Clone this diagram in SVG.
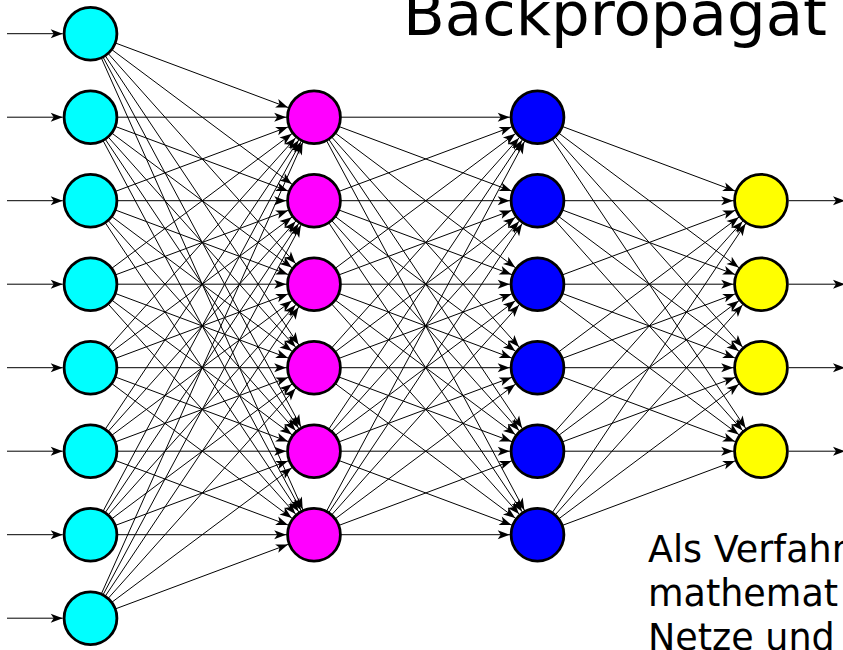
<svg xmlns="http://www.w3.org/2000/svg" width="843" height="650" viewBox="0 0 843 650">
  <style>
    .edge { stroke: #000; stroke-width: 1; fill: none; marker-end: url(#arr); }
    .io { stroke: #000; stroke-width: 1; fill: none; marker-end: url(#tip); }
    .node { stroke: #000; stroke-width: 2.8; }
    .in { fill: #00ffff; }
    .h1 { fill: #ff00ff; }
    .h2 { fill: #0000ff; }
    .out { fill: #ffff00; }
    .title { font-family: "DejaVu Sans", Verdana, sans-serif; font-size: 61px; fill: #000; }
    .body { font-family: "DejaVu Sans", Verdana, sans-serif; font-size: 36.5px; fill: #000; }
  </style>
  <defs>
    <!-- arrowhead whose tip stops at the rim of a node (lines run centre to centre) -->
    <marker id="arr" markerUnits="userSpaceOnUse" orient="auto" overflow="visible" markerWidth="12" markerHeight="10" refX="27.8" refY="0">
      <path d="M0,0 L-12,-4.5 L-9,0 L-12,4.5 Z" fill="#000"/>
    </marker>
    <!-- arrowhead placed exactly at the line end -->
    <marker id="tip" markerUnits="userSpaceOnUse" orient="auto" overflow="visible" markerWidth="12" markerHeight="10" refX="0" refY="0">
      <path d="M0,0 L-12,-4.5 L-9,0 L-12,4.5 Z" fill="#000"/>
    </marker>
  </defs>

  <text class="title" x="403" y="35">Backpropagat</text>

  <g id="connectors">
    <!-- inputs -->
    <line class="io" x1="7" y1="33.7" x2="62.7" y2="33.7"/>
    <line class="io" x1="7" y1="117.2" x2="62.7" y2="117.2"/>
    <line class="io" x1="7" y1="200.7" x2="62.7" y2="200.7"/>
    <line class="io" x1="7" y1="284.2" x2="62.7" y2="284.2"/>
    <line class="io" x1="7" y1="367.7" x2="62.7" y2="367.7"/>
    <line class="io" x1="7" y1="451.2" x2="62.7" y2="451.2"/>
    <line class="io" x1="7" y1="534.7" x2="62.7" y2="534.7"/>
    <line class="io" x1="7" y1="618.2" x2="62.7" y2="618.2"/>
    <!-- outputs -->
    <line class="io" x1="788.8" y1="200.7" x2="845" y2="200.7"/>
    <line class="io" x1="788.8" y1="284.2" x2="845" y2="284.2"/>
    <line class="io" x1="788.8" y1="367.7" x2="845" y2="367.7"/>
    <line class="io" x1="788.8" y1="451.2" x2="845" y2="451.2"/>

    <!-- input layer to first hidden layer -->
    <line class="edge" x1="90.5" y1="33.7" x2="314" y2="117.2"/>
    <line class="edge" x1="90.5" y1="33.7" x2="314" y2="200.7"/>
    <line class="edge" x1="90.5" y1="33.7" x2="314" y2="284.2"/>
    <line class="edge" x1="90.5" y1="33.7" x2="314" y2="367.7"/>
    <line class="edge" x1="90.5" y1="33.7" x2="314" y2="451.2"/>
    <line class="edge" x1="90.5" y1="33.7" x2="314" y2="534.7"/>
    <line class="edge" x1="90.5" y1="117.2" x2="314" y2="117.2"/>
    <line class="edge" x1="90.5" y1="117.2" x2="314" y2="200.7"/>
    <line class="edge" x1="90.5" y1="117.2" x2="314" y2="284.2"/>
    <line class="edge" x1="90.5" y1="117.2" x2="314" y2="367.7"/>
    <line class="edge" x1="90.5" y1="117.2" x2="314" y2="451.2"/>
    <line class="edge" x1="90.5" y1="117.2" x2="314" y2="534.7"/>
    <line class="edge" x1="90.5" y1="200.7" x2="314" y2="117.2"/>
    <line class="edge" x1="90.5" y1="200.7" x2="314" y2="200.7"/>
    <line class="edge" x1="90.5" y1="200.7" x2="314" y2="284.2"/>
    <line class="edge" x1="90.5" y1="200.7" x2="314" y2="367.7"/>
    <line class="edge" x1="90.5" y1="200.7" x2="314" y2="451.2"/>
    <line class="edge" x1="90.5" y1="200.7" x2="314" y2="534.7"/>
    <line class="edge" x1="90.5" y1="284.2" x2="314" y2="117.2"/>
    <line class="edge" x1="90.5" y1="284.2" x2="314" y2="200.7"/>
    <line class="edge" x1="90.5" y1="284.2" x2="314" y2="284.2"/>
    <line class="edge" x1="90.5" y1="284.2" x2="314" y2="367.7"/>
    <line class="edge" x1="90.5" y1="284.2" x2="314" y2="451.2"/>
    <line class="edge" x1="90.5" y1="284.2" x2="314" y2="534.7"/>
    <line class="edge" x1="90.5" y1="367.7" x2="314" y2="117.2"/>
    <line class="edge" x1="90.5" y1="367.7" x2="314" y2="200.7"/>
    <line class="edge" x1="90.5" y1="367.7" x2="314" y2="284.2"/>
    <line class="edge" x1="90.5" y1="367.7" x2="314" y2="367.7"/>
    <line class="edge" x1="90.5" y1="367.7" x2="314" y2="451.2"/>
    <line class="edge" x1="90.5" y1="367.7" x2="314" y2="534.7"/>
    <line class="edge" x1="90.5" y1="451.2" x2="314" y2="117.2"/>
    <line class="edge" x1="90.5" y1="451.2" x2="314" y2="200.7"/>
    <line class="edge" x1="90.5" y1="451.2" x2="314" y2="284.2"/>
    <line class="edge" x1="90.5" y1="451.2" x2="314" y2="367.7"/>
    <line class="edge" x1="90.5" y1="451.2" x2="314" y2="451.2"/>
    <line class="edge" x1="90.5" y1="451.2" x2="314" y2="534.7"/>
    <line class="edge" x1="90.5" y1="534.7" x2="314" y2="117.2"/>
    <line class="edge" x1="90.5" y1="534.7" x2="314" y2="200.7"/>
    <line class="edge" x1="90.5" y1="534.7" x2="314" y2="284.2"/>
    <line class="edge" x1="90.5" y1="534.7" x2="314" y2="367.7"/>
    <line class="edge" x1="90.5" y1="534.7" x2="314" y2="451.2"/>
    <line class="edge" x1="90.5" y1="534.7" x2="314" y2="534.7"/>
    <line class="edge" x1="90.5" y1="618.2" x2="314" y2="117.2"/>
    <line class="edge" x1="90.5" y1="618.2" x2="314" y2="200.7"/>
    <line class="edge" x1="90.5" y1="618.2" x2="314" y2="284.2"/>
    <line class="edge" x1="90.5" y1="618.2" x2="314" y2="367.7"/>
    <line class="edge" x1="90.5" y1="618.2" x2="314" y2="451.2"/>
    <line class="edge" x1="90.5" y1="618.2" x2="314" y2="534.7"/>

    <!-- first hidden layer to second hidden layer -->
    <line class="edge" x1="314" y1="117.2" x2="537.5" y2="117.2"/>
    <line class="edge" x1="314" y1="117.2" x2="537.5" y2="200.7"/>
    <line class="edge" x1="314" y1="117.2" x2="537.5" y2="284.2"/>
    <line class="edge" x1="314" y1="117.2" x2="537.5" y2="367.7"/>
    <line class="edge" x1="314" y1="117.2" x2="537.5" y2="451.2"/>
    <line class="edge" x1="314" y1="117.2" x2="537.5" y2="534.7"/>
    <line class="edge" x1="314" y1="200.7" x2="537.5" y2="117.2"/>
    <line class="edge" x1="314" y1="200.7" x2="537.5" y2="200.7"/>
    <line class="edge" x1="314" y1="200.7" x2="537.5" y2="284.2"/>
    <line class="edge" x1="314" y1="200.7" x2="537.5" y2="367.7"/>
    <line class="edge" x1="314" y1="200.7" x2="537.5" y2="451.2"/>
    <line class="edge" x1="314" y1="200.7" x2="537.5" y2="534.7"/>
    <line class="edge" x1="314" y1="284.2" x2="537.5" y2="117.2"/>
    <line class="edge" x1="314" y1="284.2" x2="537.5" y2="200.7"/>
    <line class="edge" x1="314" y1="284.2" x2="537.5" y2="284.2"/>
    <line class="edge" x1="314" y1="284.2" x2="537.5" y2="367.7"/>
    <line class="edge" x1="314" y1="284.2" x2="537.5" y2="451.2"/>
    <line class="edge" x1="314" y1="284.2" x2="537.5" y2="534.7"/>
    <line class="edge" x1="314" y1="367.7" x2="537.5" y2="117.2"/>
    <line class="edge" x1="314" y1="367.7" x2="537.5" y2="200.7"/>
    <line class="edge" x1="314" y1="367.7" x2="537.5" y2="284.2"/>
    <line class="edge" x1="314" y1="367.7" x2="537.5" y2="367.7"/>
    <line class="edge" x1="314" y1="367.7" x2="537.5" y2="451.2"/>
    <line class="edge" x1="314" y1="367.7" x2="537.5" y2="534.7"/>
    <line class="edge" x1="314" y1="451.2" x2="537.5" y2="117.2"/>
    <line class="edge" x1="314" y1="451.2" x2="537.5" y2="200.7"/>
    <line class="edge" x1="314" y1="451.2" x2="537.5" y2="284.2"/>
    <line class="edge" x1="314" y1="451.2" x2="537.5" y2="367.7"/>
    <line class="edge" x1="314" y1="451.2" x2="537.5" y2="451.2"/>
    <line class="edge" x1="314" y1="451.2" x2="537.5" y2="534.7"/>
    <line class="edge" x1="314" y1="534.7" x2="537.5" y2="117.2"/>
    <line class="edge" x1="314" y1="534.7" x2="537.5" y2="200.7"/>
    <line class="edge" x1="314" y1="534.7" x2="537.5" y2="284.2"/>
    <line class="edge" x1="314" y1="534.7" x2="537.5" y2="367.7"/>
    <line class="edge" x1="314" y1="534.7" x2="537.5" y2="451.2"/>
    <line class="edge" x1="314" y1="534.7" x2="537.5" y2="534.7"/>

    <!-- second hidden layer to output layer -->
    <line class="edge" x1="537.5" y1="117.2" x2="761" y2="200.7"/>
    <line class="edge" x1="537.5" y1="117.2" x2="761" y2="284.2"/>
    <line class="edge" x1="537.5" y1="117.2" x2="761" y2="367.7"/>
    <line class="edge" x1="537.5" y1="117.2" x2="761" y2="451.2"/>
    <line class="edge" x1="537.5" y1="200.7" x2="761" y2="200.7"/>
    <line class="edge" x1="537.5" y1="200.7" x2="761" y2="284.2"/>
    <line class="edge" x1="537.5" y1="200.7" x2="761" y2="367.7"/>
    <line class="edge" x1="537.5" y1="200.7" x2="761" y2="451.2"/>
    <line class="edge" x1="537.5" y1="284.2" x2="761" y2="200.7"/>
    <line class="edge" x1="537.5" y1="284.2" x2="761" y2="284.2"/>
    <line class="edge" x1="537.5" y1="284.2" x2="761" y2="367.7"/>
    <line class="edge" x1="537.5" y1="284.2" x2="761" y2="451.2"/>
    <line class="edge" x1="537.5" y1="367.7" x2="761" y2="200.7"/>
    <line class="edge" x1="537.5" y1="367.7" x2="761" y2="284.2"/>
    <line class="edge" x1="537.5" y1="367.7" x2="761" y2="367.7"/>
    <line class="edge" x1="537.5" y1="367.7" x2="761" y2="451.2"/>
    <line class="edge" x1="537.5" y1="451.2" x2="761" y2="200.7"/>
    <line class="edge" x1="537.5" y1="451.2" x2="761" y2="284.2"/>
    <line class="edge" x1="537.5" y1="451.2" x2="761" y2="367.7"/>
    <line class="edge" x1="537.5" y1="451.2" x2="761" y2="451.2"/>
    <line class="edge" x1="537.5" y1="534.7" x2="761" y2="200.7"/>
    <line class="edge" x1="537.5" y1="534.7" x2="761" y2="284.2"/>
    <line class="edge" x1="537.5" y1="534.7" x2="761" y2="367.7"/>
    <line class="edge" x1="537.5" y1="534.7" x2="761" y2="451.2"/>
  </g>

  <!-- input layer -->
  <g id="in1"><circle class="node in" cx="90.5" cy="33.7" r="26.4"/></g>
  <g id="in2"><circle class="node in" cx="90.5" cy="117.2" r="26.4"/></g>
  <g id="in3"><circle class="node in" cx="90.5" cy="200.7" r="26.4"/></g>
  <g id="in4"><circle class="node in" cx="90.5" cy="284.2" r="26.4"/></g>
  <g id="in5"><circle class="node in" cx="90.5" cy="367.7" r="26.4"/></g>
  <g id="in6"><circle class="node in" cx="90.5" cy="451.2" r="26.4"/></g>
  <g id="in7"><circle class="node in" cx="90.5" cy="534.7" r="26.4"/></g>
  <g id="in8"><circle class="node in" cx="90.5" cy="618.2" r="26.4"/></g>

  <!-- first hidden layer -->
  <g id="ha1"><circle class="node h1" cx="314" cy="117.2" r="26.4"/></g>
  <g id="ha2"><circle class="node h1" cx="314" cy="200.7" r="26.4"/></g>
  <g id="ha3"><circle class="node h1" cx="314" cy="284.2" r="26.4"/></g>
  <g id="ha4"><circle class="node h1" cx="314" cy="367.7" r="26.4"/></g>
  <g id="ha5"><circle class="node h1" cx="314" cy="451.2" r="26.4"/></g>
  <g id="ha6"><circle class="node h1" cx="314" cy="534.7" r="26.4"/></g>

  <!-- second hidden layer -->
  <g id="hb1"><circle class="node h2" cx="537.5" cy="117.2" r="26.4"/></g>
  <g id="hb2"><circle class="node h2" cx="537.5" cy="200.7" r="26.4"/></g>
  <g id="hb3"><circle class="node h2" cx="537.5" cy="284.2" r="26.4"/></g>
  <g id="hb4"><circle class="node h2" cx="537.5" cy="367.7" r="26.4"/></g>
  <g id="hb5"><circle class="node h2" cx="537.5" cy="451.2" r="26.4"/></g>
  <g id="hb6"><circle class="node h2" cx="537.5" cy="534.7" r="26.4"/></g>

  <!-- output layer -->
  <g id="out1"><circle class="node out" cx="761" cy="200.7" r="26.4"/></g>
  <g id="out2"><circle class="node out" cx="761" cy="284.2" r="26.4"/></g>
  <g id="out3"><circle class="node out" cx="761" cy="367.7" r="26.4"/></g>
  <g id="out4"><circle class="node out" cx="761" cy="451.2" r="26.4"/></g>

  <text class="body" x="648" y="562">Als Verfahr</text>
  <text class="body" x="648" y="606">mathemat</text>
  <text class="body" x="648" y="650">Netze und</text>
</svg>
